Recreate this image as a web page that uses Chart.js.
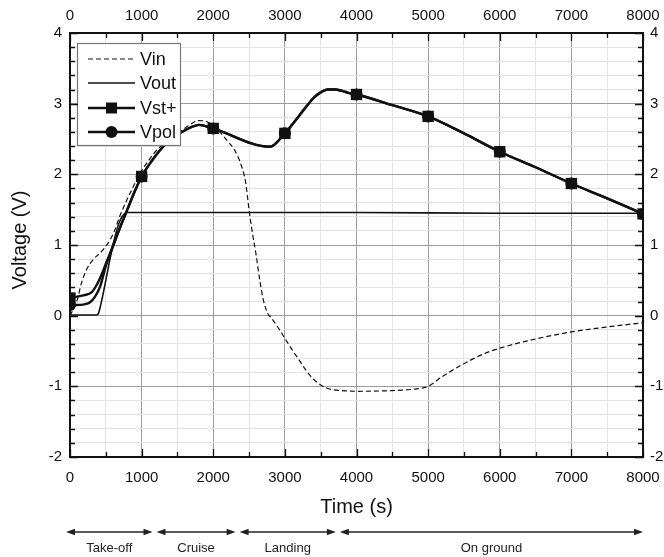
<!DOCTYPE html>
<html><head><meta charset="utf-8">
<script src="https://cdn.jsdelivr.net/npm/chart.js@4/dist/chart.umd.min.js"></script>
<style>html,body{margin:0;padding:0;background:#fff}#wrap{width:664px;height:557px}</style>
</head><body><div id="wrap"><canvas id="c" width="664" height="557"></canvas></div>
<script>
// ---- data ----
const vinT = [0,50,100,160,230,320,460,600,700,800,900,1000,1100,1200,1400,1600,1800,1900,2000,2100,2200,2300,2400,2450,2500,2550,2600,2650,2700,2760,2800,2900,3000,3100,3200,3300,3400,3500,3600,3800,4000,4500,4800,5000,5200,5500,5800,6000,6500,7000,7500,8000];
const vinV = [0.0,0.1,0.22,0.46,0.65,0.79,0.93,1.15,1.42,1.65,1.86,2.05,2.2,2.33,2.5,2.65,2.76,2.75,2.69,2.59,2.47,2.34,2.1,1.9,1.5,1.15,0.85,0.5,0.22,0.03,-0.02,-0.16,-0.32,-0.48,-0.63,-0.78,-0.9,-0.98,-1.03,-1.06,-1.07,-1.06,-1.04,-1.0,-0.86,-0.68,-0.53,-0.46,-0.33,-0.23,-0.16,-0.1];

const voutT = [0,370,400,450,500,550,600,650,700,750,800,900,2000,4000,6000,8000];
const voutV = [0.01,0.01,0.04,0.25,0.5,0.76,1.0,1.2,1.35,1.43,1.46,1.46,1.46,1.46,1.45,1.45];

const vstT = [0,100,200,300,370,440,510,580,700,800,900,1000,1100,1200,1300,1400,1500,1600,1700,1800,1900,2000,2790,3000,3100,3200,3300,3400,3500,3600,3700,3800,3900,4000,4500,5000,5500,6000,6500,7000,7500,8000];
const vstV = [0.25,0.27,0.29,0.33,0.43,0.58,0.76,0.93,1.25,1.5,1.75,1.97,2.13,2.27,2.39,2.48,2.56,2.62,2.67,2.7,2.68,2.65,2.39,2.58,2.7,2.83,2.96,3.08,3.16,3.2,3.2,3.18,3.15,3.13,2.98,2.82,2.58,2.32,2.1,1.87,1.66,1.44];

const vpolT = [0,100,200,280,350,420,500,580,700,800,900,1000,1100,1200,1300,1400,1500,1600,1700,1800,1900,2000,2790,3000,3100,3200,3300,3400,3500,3600,3700,3800,3900,4000,4500,5000,5500,6000,6500,7000,7500,8000];
const vpolV = [0.15,0.15,0.16,0.19,0.27,0.41,0.7,0.93,1.25,1.5,1.75,1.97,2.13,2.27,2.39,2.48,2.56,2.62,2.67,2.7,2.68,2.65,2.39,2.58,2.7,2.83,2.96,3.08,3.16,3.2,3.2,3.18,3.15,3.13,2.98,2.82,2.58,2.32,2.1,1.87,1.66,1.44];

const seriesNames = ['Vin','Vout','Vst+','Vpol'];
const xTickLabels = ['0','1000','2000','3000','4000','5000','6000','7000','8000'];
const yTickLabels = ['-2','-1','0','1','2','3','4'];
const phaseNames = ['Take-off','Cruise','Landing','On ground'];
const phaseEdges = [0,1180,2340,3740,8000];

// ---- chart ----
const FONT = 'Liberation Sans, Arial, Helvetica, sans-serif';
const INK = '#111';
const pts = (T,V) => T.map((t,i)=>({x:t,y:V[i]}));
const isMajorX = v => Math.abs(v/1000 - Math.round(v/1000)) < 1e-6;
const isMajorY = v => Math.abs(v - Math.round(v)) < 1e-6;
const markerAt = r => ctx => (ctx.raw && isMajorX(ctx.raw.x)) ? r : 0;

const base = {borderColor:INK, backgroundColor:INK, fill:false, cubicInterpolationMode:'monotone', clip:0, pointHoverRadius:0, pointBorderWidth:0};
const datasets = [
  Object.assign({}, base, {label:seriesNames[0], data:pts(vinT,vinV), borderWidth:1.2, borderDash:[5,3], pointRadius:0}),
  Object.assign({}, base, {label:seriesNames[1], data:pts(voutT,voutV), borderWidth:1.6, pointRadius:0}),
  Object.assign({}, base, {label:seriesNames[2], data:pts(vstT,vstV), borderWidth:2.4, pointStyle:'rect', pointRadius:markerAt(8)}),
  Object.assign({}, base, {label:seriesNames[3], data:pts(vpolT,vpolV), borderWidth:2.4, pointStyle:'circle', pointRadius:markerAt(6)})
];
const legendStyle = [
  {dash:[5,3], w:1.2, marker:null},
  {dash:[], w:1.6, marker:null},
  {dash:[], w:2.4, marker:'rect'},
  {dash:[], w:2.4, marker:'circle'}
];

const tickFont = {family:FONT, size:15};
const xTicks = (pad) => ({stepSize:500, autoSkip:false, maxRotation:0, minRotation:0, color:INK, font:tickFont, padding:pad,
  callback: v => isMajorX(v) ? xTickLabels[Math.round(v/1000)] : ''});
const yTicks = (pad) => ({stepSize:0.2, autoSkip:false, color:INK, font:tickFont, padding:pad,
  callback: v => isMajorY(v) ? yTickLabels[Math.round(v)+2] : ''});
const fitX = h => s => { s.height = h; s.paddingLeft = 0; s.paddingRight = 0; };
const fitY = w => s => { s.width = w; s.paddingTop = 0; s.paddingBottom = 0; };

const framePlugin = {
  id:'framePlugin',
  afterDatasetsDraw(chart){
    const c = chart.ctx, a = chart.chartArea;
    const xs = chart.scales.x, ys = chart.scales.y;
    c.save();
    // legend box
    const lx=77, ly=43, lw=103, lh=102;
    c.fillStyle='#fff'; c.fillRect(lx,ly,lw,lh);
    c.strokeStyle='#777'; c.lineWidth=1.2; c.strokeRect(lx+0.5,ly+0.5,lw,lh);
    const rowY=[59,83,108,132];
    chart.data.datasets.forEach((d,i)=>{
      const st = legendStyle[i];
      c.strokeStyle=INK; c.lineWidth=st.w; c.setLineDash(st.dash);
      c.beginPath(); c.moveTo(88,rowY[i]); c.lineTo(135,rowY[i]); c.stroke();
      c.setLineDash([]);
      c.fillStyle=INK;
      if(st.marker==='rect'){ c.fillRect(111.5-5.5,rowY[i]-5.5,11,11); }
      else if(st.marker==='circle'){ c.beginPath(); c.arc(111.5,rowY[i],6,0,Math.PI*2); c.fill(); }
      c.font='18px '+FONT; c.textAlign='left'; c.textBaseline='middle';
      c.fillText(d.label,140,rowY[i]+1);
    });
    // inward ticks
    c.strokeStyle=INK; c.lineWidth=1.3;
    c.beginPath();
    xs.ticks.forEach(t=>{
      const p = Math.round(xs.getPixelForValue(t.value))+0.5;
      const L = isMajorX(t.value)?8:5;
      c.moveTo(p,a.bottom); c.lineTo(p,a.bottom-L);
      c.moveTo(p,a.top); c.lineTo(p,a.top+L);
    });
    ys.ticks.forEach(t=>{
      const p = Math.round(ys.getPixelForValue(t.value))+0.5;
      const L = isMajorY(t.value)?8:5;
      c.moveTo(a.left,p); c.lineTo(a.left+L,p);
      c.moveTo(a.right,p); c.lineTo(a.right-L,p);
    });
    c.stroke();
    // frame
    c.lineWidth=2; c.strokeStyle=INK;
    c.strokeRect(a.left,a.top,a.right-a.left,a.bottom-a.top);
    // axis titles
    c.fillStyle=INK; c.font='20px '+FONT; c.textAlign='center'; c.textBaseline='middle';
    c.fillText('Time (s)', (a.left+a.right)/2, 507);
    c.save(); c.translate(20,240); c.rotate(-Math.PI/2); c.fillText('Voltage (V)',0,0); c.restore();
    // phase arrows
    const ay=532;
    c.lineWidth=1.4; c.strokeStyle='#222'; c.fillStyle='#222';
    for(let i=0;i<phaseNames.length;i++){
      const x0 = xs.getPixelForValue(phaseEdges[i]) + (i===0?-4:2);
      const x1 = xs.getPixelForValue(phaseEdges[i+1]) - (i===phaseNames.length-1?0:2);
      c.beginPath(); c.moveTo(x0+6,ay); c.lineTo(x1-6,ay); c.stroke();
      c.beginPath(); c.moveTo(x0,ay); c.lineTo(x0+9,ay-3.2); c.lineTo(x0+9,ay+3.2); c.closePath(); c.fill();
      c.beginPath(); c.moveTo(x1,ay); c.lineTo(x1-9,ay-3.2); c.lineTo(x1-9,ay+3.2); c.closePath(); c.fill();
      c.font='13px '+FONT; c.textAlign='center'; c.textBaseline='middle';
      c.fillText(phaseNames[i], (x0+x1)/2, 548);
    }
    c.restore();
  }
};

new Chart(document.getElementById('c'), {
  type:'line',
  data:{datasets},
  options:{
    responsive:false, animation:false, devicePixelRatio:1,
    layout:{padding:0},
    plugins:{legend:{display:false}, tooltip:{enabled:false}},
    scales:{
      x:{type:'linear', position:'bottom', min:0, max:8000, ticks:xTicks(12),
         grid:{drawTicks:false, lineWidth:1, color: ctx => isMajorX(ctx.tick.value) ? '#9c9c9c' : '#e4e4e4'},
         border:{display:false}, afterFit: fitX(100)},
      x2:{type:'linear', position:'top', min:0, max:8000, ticks:xTicks(8),
         grid:{display:false, drawTicks:false}, border:{display:false}, afterFit: fitX(33)},
      y:{type:'linear', position:'left', min:-2, max:4, ticks:yTicks(8),
         grid:{drawTicks:false, lineWidth:1, color: ctx => isMajorY(ctx.tick.value) ? '#9c9c9c' : '#e4e4e4'},
         border:{display:false}, afterFit: fitY(70)},
      y2:{type:'linear', position:'right', min:-2, max:4, ticks:yTicks(7),
         grid:{display:false, drawTicks:false}, border:{display:false}, afterFit: fitY(21)}
    }
  },
  plugins:[framePlugin]
});
</script>
</body></html>
